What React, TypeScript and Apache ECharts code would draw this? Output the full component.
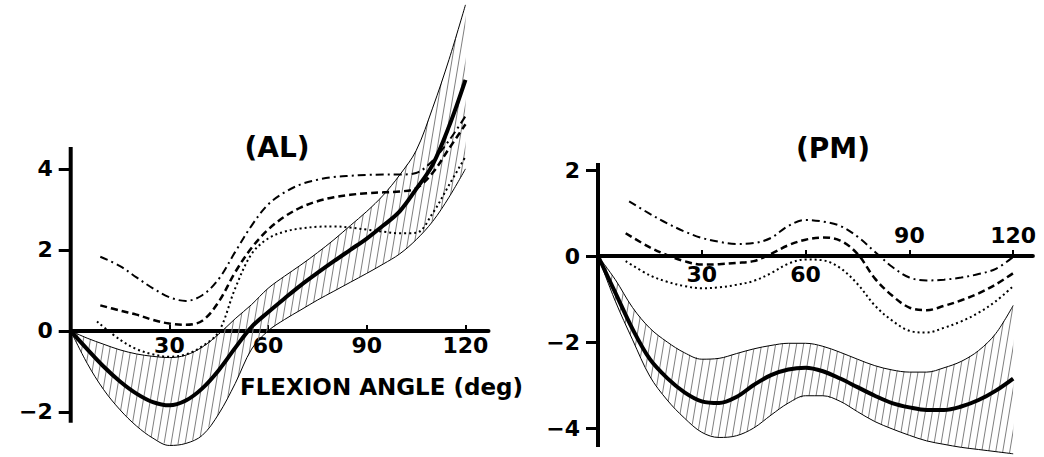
import React, { useEffect, useRef } from "react";
import * as echarts from "echarts";

// ---------- (AL) panel data ----------
const AL_X = [0, 5, 10, 15, 20, 25, 30, 35, 40, 45, 50, 55, 60, 65, 70, 75, 80, 85, 90, 95, 100, 105, 110, 115, 120];
const AL_MEAN = [0, -0.45, -0.88, -1.25, -1.55, -1.76, -1.84, -1.72, -1.42, -0.97, -0.42, 0.1, 0.46, 0.8, 1.13, 1.43, 1.72, 2.0, 2.28, 2.6, 2.95, 3.5, 4.1, 5.05, 6.2];
const AL_UPPER = [0, -0.18, -0.33, -0.47, -0.57, -0.63, -0.66, -0.6, -0.4, -0.08, 0.3, 0.65, 1.05, 1.35, 1.63, 1.93, 2.25, 2.6, 2.95, 3.35, 3.85, 4.45, 5.5, 6.7, 8.05];
const AL_LOWER = [0, -0.8, -1.45, -1.95, -2.35, -2.65, -2.83, -2.78, -2.58, -2.05, -1.3, -0.45, 0.0, 0.28, 0.52, 0.76, 0.98, 1.2, 1.42, 1.65, 1.9, 2.25, 2.7, 3.3, 4.0];
const AL_DD_X = [9, 15, 20, 25, 30, 35, 40, 45, 50, 55, 60, 65, 70, 75, 80, 85, 90, 95, 100, 105, 110, 115, 120];
const AL_DASHDOT = [1.83, 1.6, 1.32, 1.05, 0.83, 0.74, 0.88, 1.28, 1.95, 2.6, 3.12, 3.42, 3.62, 3.73, 3.8, 3.83, 3.85, 3.86, 3.86, 3.9, 4.2, 4.7, 5.3];
const AL_DASHED = [0.63, 0.5, 0.4, 0.27, 0.18, 0.15, 0.25, 0.72, 1.45, 2.05, 2.5, 2.82, 3.05, 3.2, 3.3, 3.36, 3.4, 3.42, 3.44, 3.52, 3.9, 4.5, 5.1];
const AL_DOT_X = [8, 15, 20, 25, 30, 35, 40, 45, 50, 55, 60, 65, 70, 75, 80, 85, 90, 95, 100, 105, 110, 115, 120];
const AL_DOTTED = [0.23, -0.22, -0.45, -0.58, -0.64, -0.58, -0.38, -0.02, 1.05, 1.9, 2.28, 2.45, 2.53, 2.57, 2.58, 2.55, 2.5, 2.45, 2.41, 2.42, 2.9, 3.6, 4.3];

// ---------- (PM) panel data ----------
const PM_X = [0, 5, 10, 15, 20, 25, 30, 35, 40, 45, 50, 55, 60, 65, 70, 75, 80, 85, 90, 95, 100, 105, 110, 115, 120];
const PM_MEAN = [0, -0.85, -1.7, -2.4, -2.84, -3.17, -3.38, -3.42, -3.28, -3.0, -2.77, -2.64, -2.6, -2.68, -2.85, -3.05, -3.25, -3.42, -3.52, -3.58, -3.58, -3.5, -3.35, -3.13, -2.85];
const PM_UPPER = [0, -0.55, -1.2, -1.68, -2.0, -2.25, -2.4, -2.38, -2.27, -2.16, -2.08, -2.03, -2.03, -2.1, -2.24, -2.4, -2.55, -2.65, -2.7, -2.7, -2.6, -2.45, -2.2, -1.8, -1.15];
const PM_LOWER = [0, -1.05, -1.95, -2.8, -3.35, -3.77, -4.1, -4.22, -4.18, -4.0, -3.7, -3.42, -3.25, -3.25, -3.38, -3.62, -3.85, -4.02, -4.17, -4.3, -4.38, -4.45, -4.5, -4.55, -4.6];
const PM_DD_X = [9, 15, 20, 25, 30, 35, 40, 45, 50, 55, 60, 65, 70, 75, 80, 85, 90, 95, 100, 105, 110, 115, 120];
const PM_DASHDOT = [1.27, 0.98, 0.76, 0.57, 0.42, 0.33, 0.28, 0.3, 0.42, 0.7, 0.84, 0.8, 0.7, 0.45, 0.1, -0.25, -0.5, -0.57, -0.55, -0.5, -0.42, -0.3, -0.02];
const PM_DS_X = [8, 15, 20, 25, 30, 35, 40, 45, 50, 55, 60, 65, 70, 75, 80, 85, 90, 95, 100, 105, 110, 115, 120];
const PM_DASHED = [0.53, 0.2, 0.02, -0.12, -0.2, -0.19, -0.16, -0.12, 0.05, 0.25, 0.38, 0.43, 0.36, 0.05, -0.52, -0.92, -1.2, -1.26, -1.16, -1.03, -0.87, -0.66, -0.4];
const PM_DOTTED = [-0.12, -0.45, -0.6, -0.7, -0.75, -0.73, -0.67, -0.58, -0.4, -0.18, -0.08, -0.1, -0.28, -0.65, -1.15, -1.5, -1.74, -1.78, -1.67, -1.52, -1.32, -1.05, -0.7];

// ---------- axes ----------
const AL_X_TICKS = [30, 60, 90, 120];
const AL_Y_TICKS = [-2, 0, 2, 4];
const PM_X_TICKS = [30, 60, 90, 120];
const PM_X_LABELS_BELOW = [30, 60];
const PM_X_LABELS_ABOVE = [90, 120];
const PM_Y_TICKS = [-4, -2, 0, 2];
const AL_YAXIS_SPAN = [-2.27, 4.54];
const PM_YAXIS_SPAN = [-4.44, 2.16];

const FONT = '"DejaVu Sans", "Liberation Sans", sans-serif';

const pairs = (xs: number[], ys: number[]) => xs.map((x, i) => [x, ys[i]]);
const minusFmt = (v: number) => (v < 0 ? "\u2212" + Math.abs(v) : String(v));

export default function App() {
  const ref = useRef<HTMLDivElement>(null);

  useEffect(() => {
    if (!ref.current) return;
    const chart = echarts.init(ref.current, undefined, { renderer: "svg" });

    // slanted hatch tile (line leans right, wraps seamlessly)
    const hatch = document.createElement("canvas");
    hatch.width = 7;
    hatch.height = 42;
    const ctx = hatch.getContext("2d");
    if (ctx) {
      ctx.strokeStyle = "#7f7f7f";
      ctx.lineWidth = 1;
      [-7, 0, 7].forEach((dx) => {
        ctx.beginPath();
        ctx.moveTo(dx, 42);
        ctx.lineTo(dx + 7, 0);
        ctx.stroke();
      });
    }
    const hatchFill: any = { image: hatch, repeat: "repeat" };

    const labelStyle = { color: "#000", fontSize: 22, fontWeight: "bold", fontFamily: FONT };
    const G = { outerBoundsMode: "none", containLabel: false };

    // data grids: 0 = AL, 1 = PM ; axis grids: 2 = AL x-axis, 3 = PM x-axis (below), 4 = PM labels above
    const grids = [
      { ...G, left: 70.7, top: 0, width: 417.8, height: 456.4 },
      { ...G, left: 598, top: 148.5, width: 434.9, height: 307.45 },
      { ...G, left: 70.7, top: 0, width: 417.8, height: 330.9 },
      { ...G, left: 598, top: 148.5, width: 434.9, height: 107.5 },
      { ...G, left: 598, top: 256, width: 434.9, height: 100 },
    ];

    const hiddenX = (grid: number, max: number) => ({ type: "value", gridIndex: grid, min: 0, max, show: false });
    const shownX = (grid: number, max: number, labels: number[], ticks: number[], position: string, showLine: boolean, margin: number) => ({
      type: "value",
      gridIndex: grid,
      min: 0,
      max,
      position,
      axisLine: { show: showLine, onZero: false, lineStyle: { color: "#000", width: 4 } },
      axisTick: { show: ticks.length > 0, customValues: ticks, inside: true, length: 6, lineStyle: { color: "#000", width: 2 } },
      axisLabel: { ...labelStyle, customValues: labels, margin },
      splitLine: { show: false },
    });
    const hiddenY = (grid: number) => ({ type: "value", gridIndex: grid, min: 0, max: 1, show: false });

    const shownY = (grid: number, min: number, max: number, ticks: number[]) => ({
      type: "value",
      gridIndex: grid,
      min,
      max,
      axisLine: { show: false },
      axisTick: { show: true, customValues: ticks, length: 12, lineStyle: { color: "#000", width: 3 } },
      axisLabel: { ...labelStyle, customValues: ticks, margin: 18, formatter: minusFmt },
      splitLine: { show: false },
    });

    const hatchSeries = (xi: number, yi: number, xs: number[], up: number[], lo: number[]) => ({
      type: "custom",
      xAxisIndex: xi,
      yAxisIndex: yi,
      silent: true,
      z: 1,
      data: xs.map((x, i) => [x, lo[i], up[i]]),
      encode: { x: 0, y: [1, 2] },
      renderItem: (params: any, api: any) => {
        if (params.dataIndex !== 0) return null;
        const top = xs.map((x, i) => api.coord([x, up[i]]));
        const bottom = xs.map((x, i) => api.coord([x, lo[i]])).reverse();
        return {
          type: "polygon",
          shape: { points: top.concat(bottom) },
          style: { fill: hatchFill, stroke: null },
        };
      },
    });

    const curve = (xi: number, yi: number, xs: number[], ys: number[], width: number, type: any, z = 4) => ({
      type: "line",
      xAxisIndex: xi,
      yAxisIndex: yi,
      smooth: 0.35,
      symbol: "none",
      data: pairs(xs, ys),
      lineStyle: { color: "#000", width, type },
      z,
    });

    const axisLineSeries = (xi: number, yi: number, span: number[]) => ({
      type: "line",
      xAxisIndex: xi,
      yAxisIndex: yi,
      symbol: "none",
      clip: false,
      silent: true,
      data: [[0, span[0]], [0, span[1]]],
      lineStyle: { color: "#000", width: 4 },
      z: 6,
    });

    const option: any = {
      animation: false,
      backgroundColor: "#fff",
      grid: grids,
      xAxis: [
        hiddenX(0, 127),
        hiddenX(1, 125.7),
        shownX(2, 127, AL_X_TICKS, AL_X_TICKS, "bottom", true, 4),
        shownX(3, 125.7, PM_X_LABELS_BELOW, PM_X_TICKS, "bottom", true, 7),
        shownX(4, 125.7, PM_X_LABELS_ABOVE, [], "top", false, 10),
      ],
      yAxis: [
        shownY(0, -3.1, 8.17, AL_Y_TICKS),
        shownY(1, -4.65, 2.5, PM_Y_TICKS),
        hiddenY(2),
        hiddenY(3),
        hiddenY(4),
      ],
      graphic: [
        { type: "text", x: 277, y: 147, style: { text: "(AL)", font: `bold 28px ${FONT}`, fill: "#000", align: "center", verticalAlign: "middle" } },
        { type: "text", x: 833, y: 148, style: { text: "(PM)", font: `bold 28px ${FONT}`, fill: "#000", align: "center", verticalAlign: "middle" } },
        { type: "text", x: 240, y: 387, style: { text: "FLEXION ANGLE (deg)", font: `bold 23px ${FONT}`, fill: "#000", align: "left", verticalAlign: "middle" } },
      ],
      series: [
        hatchSeries(0, 0, AL_X, AL_UPPER, AL_LOWER),
        curve(0, 0, AL_X, AL_UPPER, 1, "solid", 3),
        curve(0, 0, AL_X, AL_LOWER, 1, "solid", 3),
        curve(0, 0, AL_X, AL_MEAN, 4, "solid", 5),
        curve(0, 0, AL_DD_X, AL_DASHDOT, 2, [8, 4, 2, 4]),
        curve(0, 0, AL_DD_X, AL_DASHED, 2.5, [7, 4]),
        curve(0, 0, AL_DOT_X, AL_DOTTED, 2, [2, 3]),
        axisLineSeries(0, 0, AL_YAXIS_SPAN),

        hatchSeries(1, 1, PM_X, PM_UPPER, PM_LOWER),
        curve(1, 1, PM_X, PM_UPPER, 1, "solid", 3),
        curve(1, 1, PM_X, PM_LOWER, 1, "solid", 3),
        curve(1, 1, PM_X, PM_MEAN, 4, "solid", 5),
        curve(1, 1, PM_DD_X, PM_DASHDOT, 2, [8, 4, 2, 4]),
        curve(1, 1, PM_DS_X, PM_DASHED, 2.5, [7, 4]),
        curve(1, 1, PM_DS_X, PM_DOTTED, 2, [2, 3]),
        axisLineSeries(1, 1, PM_YAXIS_SPAN),
      ],
    };

    chart.setOption(option);
    return () => chart.dispose();
  }, []);

  return <div ref={ref} style={{ position: "absolute", left: 0, top: 0, width: 1044, height: 457 }} />;
}
